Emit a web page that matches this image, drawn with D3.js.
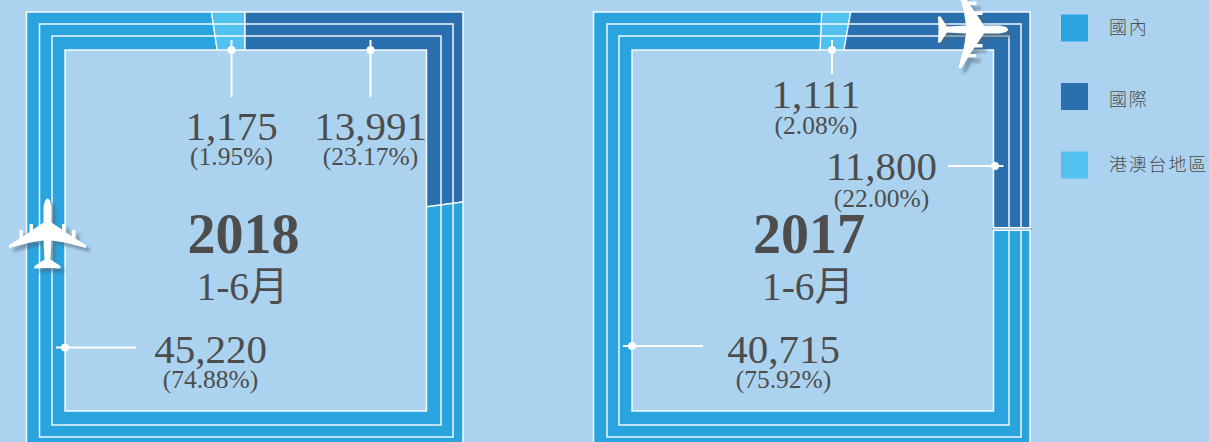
<!DOCTYPE html>
<html>
<head>
<meta charset="utf-8">
<script src="https://cdn.jsdelivr.net/npm/d3@7"></script>
<style>
    html, body { margin: 0; padding: 0; background: #abd3f0; overflow: hidden; }
    text { font-family: "Liberation Serif", "Noto Sans CJK TC", serif; fill: #4d4d4d; }
</style>
</head>
<body>
<div id="chart"></div>
<script>

var categories = ["國內", "國際", "港澳台地區"];
var colors = ["#29a4df", "#2a6fae", "#52c1f0"];

// printed figures, same order as categories
var values2018 = [45220, 13991, 1175];
var percents2018 = [74.88, 23.17, 1.95];
var values2017 = [40715, 11800, 1111];
var percents2017 = [75.92, 22.00, 2.08];

var wedges2018 = [74.7, 22.9, 2.4];
var wedges2017 = [75.92, 22.00, 2.08];

var width = 1209, height = 442;

var svg = d3.select("#chart").append("svg")
    .attr("width", width)
    .attr("height", height)
    .style("display", "block");

var defs = svg.append("defs");

// half outline of the plane, nose up, mirrored below
var planeHalf = [[0, -35.5], [2.5, -33], [4, -27], [4, -11], [14.5, -4], [14.5, -9.5], [18, -9.5], [18, -1.5],
    [24.5, 3], [24.5, -3.5], [28, -3.5], [28, 5], [38.5, 11.5], [38.5, 14.5], [17, 9], [4, 7], [3, 26], [13, 32.5], [13, 35], [0, 34.5]];

function planePath() {
    var right = planeHalf;
    var left = planeHalf.slice(1, -1).reverse().map(function(p) { return [-p[0], p[1]]; });
    return d3.line()(right.concat(left)) + "Z";
}

function drawPlane(x, y, angle, shadowX, shadowY) {
    var g = svg.append("g");
    g.append("path")
        .attr("d", planePath())
        .attr("transform", "translate(" + (x + shadowX) + "," + (y + shadowY) + ") rotate(" + angle + ")")
        .attr("fill", "#4d6478")
        .attr("fill-opacity", 0.55)
        .style("filter", "blur(1.5px)");
    g.append("path")
        .attr("d", planePath())
        .attr("transform", "translate(" + x + "," + y + ") rotate(" + angle + ")")
        .attr("fill", "#fff");
}

function drawPanel(id, box, wedges, order, startDeg) {
    var g = svg.append("g");

    // ring edges from outside in
    var cx = (box.left[0] + box.right[0]) / 2,
        cy = (box.top[0] + box.bottom[0]) / 2;

    function rectPath(i) {
        return "M" + box.left[i] + "," + box.top[i] + "H" + box.right[i] + "V" + box.bottom[i] + "H" + box.left[i] + "Z";
    }

    defs.append("clipPath")
        .attr("id", "ring" + id)
        .append("path")
        .attr("clip-rule", "evenodd")
        .attr("transform", "translate(" + (-cx) + "," + (-cy) + ")")
        .attr("d", rectPath(0) + rectPath(3));

    var pie = d3.pie()
        .sort(null)
        .value(function(d) { return d.share; })
        .startAngle(startDeg * Math.PI / 180)
        .endAngle((startDeg + 360) * Math.PI / 180);

    var arc = d3.arc().innerRadius(0).outerRadius(420);

    var table = order.map(function(k) { return { share: wedges[k], color: colors[k] }; });

    var slices = g.append("g")
        .attr("transform", "translate(" + cx + "," + cy + ")")
        .attr("clip-path", "url(#ring" + id + ")");

    slices.selectAll("path")
        .data(pie(table))
        .enter().append("path")
        .attr("d", arc)
        .attr("fill", function(d) { return d.data.color; })
        .attr("stroke", "#fff")
        .attr("stroke-opacity", 0.9)
        .attr("stroke-width", 1.4);

    g.selectAll("path.edge")
        .data([0, 1, 2, 3])
        .enter().append("path")
        .attr("class", "edge")
        .attr("d", rectPath)
        .attr("fill", "none")
        .attr("stroke", "#fff")
        .attr("stroke-opacity", 0.92)
        .attr("stroke-width", 1.5);
}

// leader line with a dot where it meets the inner edge
function leader(x1, y1, x2, y2, dx, dy) {
    svg.append("line")
        .attr("x1", x1).attr("y1", y1)
        .attr("x2", x2).attr("y2", y2)
        .attr("stroke", "#fff")
        .attr("stroke-width", 2);
    svg.append("circle")
        .attr("cx", dx).attr("cy", dy)
        .attr("r", 4)
        .attr("fill", "#fff");
}

function label(x, y, value, percent, y2) {
    svg.append("text")
        .attr("x", x).attr("y", y)
        .attr("text-anchor", "middle")
        .attr("font-size", 41)
        .text(d3.format(",")(value));
    svg.append("text")
        .attr("x", x).attr("y", y2)
        .attr("text-anchor", "middle")
        .attr("font-size", 25.5)
        .text("(" + percent.toFixed(2) + "%)");
}

function title(x, year) {
    svg.append("text")
        .attr("x", x).attr("y", 253)
        .attr("text-anchor", "middle")
        .attr("font-size", 56)
        .attr("font-weight", "bold")
        .text(year);
    svg.append("text")
        .attr("x", x - 1).attr("y", 300)
        .attr("text-anchor", "middle")
        .attr("font-size", 39.5)
        .text("1-6月");
}

drawPanel("a", {
    left: [26.5, 39.5, 52, 65],
    right: [463, 453, 441, 426.5],
    top: [12, 24, 36, 50],
    bottom: [450, 437, 425, 411]
}, wedges2018, [1, 0, 2], 0);

drawPanel("b", {
    left: [593.5, 607, 619, 632],
    right: [1030, 1021, 1009, 993.5],
    top: [12, 24, 36, 50],
    bottom: [450, 437, 425, 411]
}, wedges2017, [2, 1, 0], 2.6);

// the 2017 split between domestic and international is a wider white band with a thin line in it
svg.append("line")
    .attr("x1", 993).attr("y1", 229)
    .attr("x2", 1030).attr("y2", 229)
    .attr("stroke", "#fff")
    .attr("stroke-width", 4);
svg.append("line")
    .attr("x1", 992).attr("y1", 229)
    .attr("x2", 1032).attr("y2", 229)
    .attr("stroke", "#6f9fcc")
    .attr("stroke-width", 1);

leader(231.5, 40, 231.5, 97, 231.5, 50);
leader(370.5, 40, 370.5, 97, 370.5, 50);
leader(56, 347.5, 136, 347.5, 65, 347.5);
leader(832, 40, 832, 74, 832, 50);
leader(948, 166, 1003.5, 166, 995, 166);
leader(623, 346, 703, 346, 632, 346);

label(231.5, 140, values2018[2], percents2018[2], 165);
label(370.5, 140, values2018[1], percents2018[1], 165);
label(210.5, 363, values2018[0], percents2018[0], 388);
label(816, 108, values2017[2], percents2017[2], 134);
label(881.5, 180, values2017[1], percents2017[1], 207);
label(783.5, 363, values2017[0], percents2017[0], 388);

title(243.5, "2018");
title(809, "2017");

drawPlane(47.5, 233.5, 0, 4, 4);
drawPlane(973, 29.5, 90, 4, 5);

// legend
var legend = svg.selectAll("g.legend")
    .data(categories)
    .enter().append("g")
    .attr("class", "legend")
    .attr("transform", function(d, i) { return "translate(1061," + (14.5 + i * 68.5) + ")"; });

legend.append("rect")
    .attr("width", 27)
    .attr("height", 27)
    .attr("fill", function(d, i) { return colors[i]; });

// second label sits a little low in the original
legend.append("text")
    .attr("x", 48)
    .attr("y", function(d, i) { return i == 1 ? 23 : 19.5; })
    .attr("font-size", 18)
    .attr("letter-spacing", 1.8)
    .attr("font-weight", 300)
    .style("font-family", "'Noto Sans CJK TC'")
    .text(function(d) { return d; });

</script>
</body>
</html>
